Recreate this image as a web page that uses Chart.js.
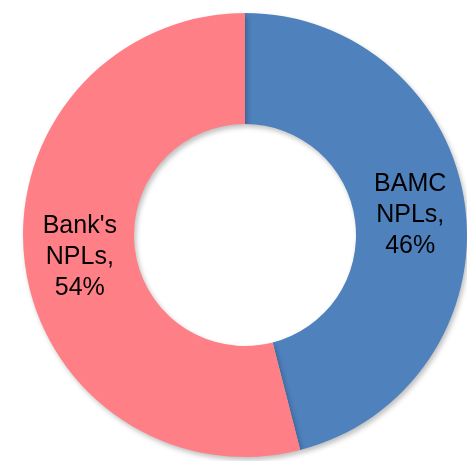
<!DOCTYPE html>
<html>
<head>
<meta charset="utf-8">
<script src="https://cdn.jsdelivr.net/npm/chart.js@4"></script>
<style>
html,body{margin:0;padding:0;background:#fff;overflow:hidden;}
#wrap{position:relative;width:467px;height:461px;}
</style>
</head>
<body>
<div id="wrap"><canvas id="c"></canvas></div>
<script>
const categories = ["BAMC NPLs", "Bank's NPLs"];
const labelLines = [["BAMC", "NPLs,", "46%"], ["Bank's", "NPLs,", "54%"]];
const shares = [46, 54];
const colors = ["#4F81BD", "#FF7F87"];

const shadowPlugin = {
  id: 'shadow',
  beforeDatasetDraw(chart) {
    const ctx = chart.ctx;
    ctx.save();
    ctx.shadowColor = 'rgba(0,0,0,0.25)';
    ctx.shadowBlur = 5;
    ctx.shadowOffsetX = 2;
    ctx.shadowOffsetY = 3;
  },
  afterDatasetDraw(chart) {
    chart.ctx.restore();
  }
};

const labelPlugin = {
  id: 'sliceLabels',
  afterDatasetsDraw(chart) {
    const ctx = chart.ctx;
    const meta = chart.getDatasetMeta(0);
    ctx.save();
    ctx.font = '25px "Liberation Sans", Arial, sans-serif';
    ctx.fillStyle = '#000';
    ctx.textAlign = 'center';
    ctx.textBaseline = 'middle';
    const lh = 31;
    meta.data.forEach((arc, i) => {
      const p = arc.getProps(['x','y','startAngle','endAngle','innerRadius','outerRadius']);
      const mid = (p.startAngle + p.endAngle) / 2;
      const r = (p.innerRadius + p.outerRadius) / 2;
      const cx = p.x + Math.cos(mid) * r;
      const cy = p.y + Math.sin(mid) * r;
      const lines = labelLines[i];
      lines.forEach((t, j) => {
        ctx.fillText(t, cx, cy + 1 + (j - (lines.length - 1) / 2) * lh);
      });
    });
    ctx.restore();
  }
};

new Chart(document.getElementById('c'), {
  type: 'doughnut',
  data: {
    labels: categories,
    datasets: [{
      data: shares,
      backgroundColor: colors,
      borderWidth: 0,
      hoverOffset: 0
    }]
  },
  options: {
    responsive: true,
    maintainAspectRatio: false,
    animation: false,
    cutout: '50%',
    layout: { padding: { top: 13, bottom: 4, left: 23, right: 0 } },
    plugins: {
      legend: { display: false },
      tooltip: { enabled: false }
    }
  },
  plugins: [shadowPlugin, labelPlugin]
});
</script>
</body>
</html>
